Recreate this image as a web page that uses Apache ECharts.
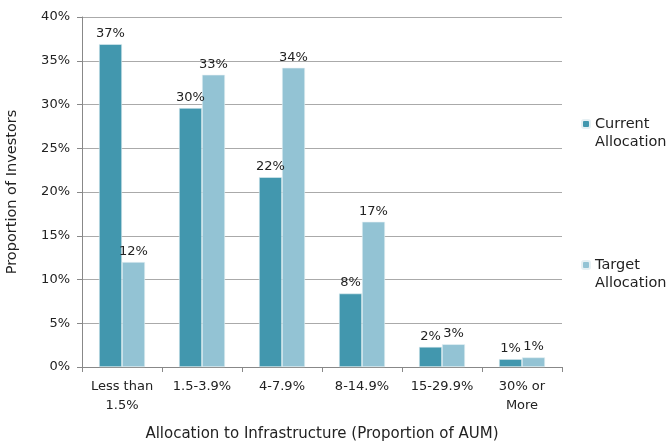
<!DOCTYPE html>
<html>
<head>
<meta charset="utf-8">
<script src="https://cdn.jsdelivr.net/npm/echarts@6/dist/echarts.min.js"></script>
<style>
html, body { margin: 0; padding: 0; background: #fff; }
#chart { width: 667px; height: 441px; }
</style>
</head>
<body>
<div id="chart"></div>
<script>
var categories = ['Less than\n1.5%', '1.5-3.9%', '4-7.9%', '8-14.9%', '15-29.9%', '30% or\nMore'];
var currentData = [36.9, 29.6, 21.7, 8.4, 2.3, 0.9];
var targetData = [12.0, 33.4, 34.2, 16.6, 2.6, 1.1];
var yTicks = [0, 5, 10, 15, 20, 25, 30, 35, 40];

var font = '"DejaVu Sans", sans-serif';
var txt = '#222';

// blank first line so the square sits beside the first word, not between lines
function legendAt(name, top) {
    return {
        data: [name],
        left: 581, top: top,
        padding: 0,
        orient: 'vertical',
        itemWidth: 8, itemHeight: 8,
        formatter: function (n) { return '\u00a0\n' + n; },
        textStyle: { fontFamily: font, fontSize: 14.5, color: txt, lineHeight: 18 }
    };
}

var chart = echarts.init(document.getElementById('chart'));
var option = {
    textStyle: { fontFamily: font },
    animation: false,
    grid: { left: 82, top: 17, right: 105, bottom: 74, outerBoundsMode: 'none' },
    legend: [
        legendAt('Current\nAllocation', 97),
        legendAt('Target\nAllocation', 238)
    ],
    xAxis: {
        type: 'category',
        data: categories,
        name: 'Allocation to Infrastructure (Proportion of AUM)',
        nameLocation: 'middle',
        nameGap: 60,
        nameTextStyle: { fontSize: 15, color: txt },
        axisLine: { lineStyle: { color: '#888' } },
        axisTick: { show: true, alignWithLabel: false, length: 5, lineStyle: { color: '#888' } },
        axisLabel: { fontSize: 13, color: txt, margin: 10, lineHeight: 19, interval: 0 }
    },
    yAxis: {
        type: 'value',
        min: yTicks[0],
        max: yTicks[yTicks.length - 1],
        interval: 5,
        name: 'Proportion of Investors',
        nameLocation: 'middle',
        nameGap: 62,
        nameTextStyle: { fontSize: 14.5, color: txt },
        axisLine: { show: true, lineStyle: { color: '#888' } },
        axisTick: { show: true, length: 5, lineStyle: { color: '#888' } },
        axisLabel: { fontSize: 13, color: txt, margin: 12, formatter: '{value}%' },
        splitLine: { lineStyle: { color: '#aaa' } }
    },
    series: [
        {
            name: 'Current\nAllocation',
            type: 'bar',
            data: currentData,
            barWidth: 23,
            barGap: '0%',
            itemStyle: { color: '#4297ae', borderColor: '#e6f0f3', borderWidth: 0.6 },
            label: {
                show: true, position: 'top', distance: 4,
                fontSize: 13, color: txt,
                formatter: function (p) { return Math.round(p.value) + '%'; }
            }
        },
        {
            name: 'Target\nAllocation',
            type: 'bar',
            data: targetData,
            barWidth: 23,
            barGap: '0%',
            itemStyle: { color: '#93c3d4', borderColor: '#e6f0f3', borderWidth: 0.6 },
            label: {
                show: true, position: 'top', distance: 4,
                fontSize: 13, color: txt,
                formatter: function (p) { return Math.round(p.value) + '%'; }
            }
        }
    ]
};
chart.setOption(option);
</script>
</body>
</html>
